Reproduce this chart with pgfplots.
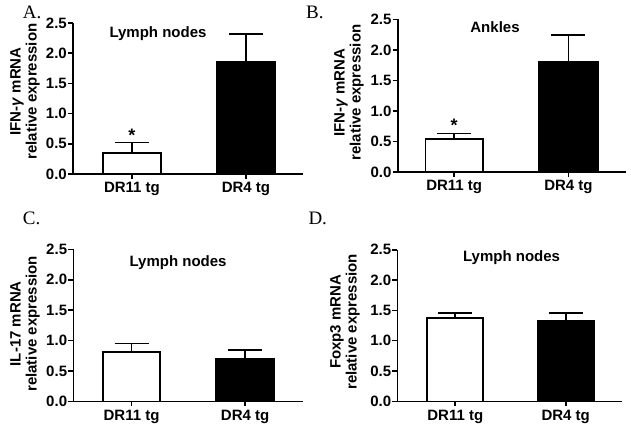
\documentclass[border=0pt]{standalone}
\usepackage{fontspec}
\setmainfont{Liberation Sans}
\newfontfamily\seriffont{Liberation Serif}
\usepackage{pgfplots}
\pgfplotsset{compat=1.18}
\newcommand{\tf}{\bfseries\fontsize{15}{16}\selectfont}
\pgfplotsset{
  panel/.style={
    scale only axis,
    anchor=south west,
    axis x line=bottom, axis y line=left,
    axis line style={-, line width=1.6pt},
    ymin=0, ymax=2.5,
    ytick={0,0.5,1,1.5,2,2.5},
    xtick={1,2}, xticklabels={DR11 tg, DR4 tg},
    tick align=outside,
    major tick length=5pt,
    tick style={line width=1.6pt, black},
    ticklabel style={font=\tf},
    yticklabel style={inner sep=1pt},
    clip=false,
    /pgf/number format/.cd, fixed, fixed zerofill, precision=1, assume math mode=true,
    /pgfplots/.cd,
  },
  wbar/.style={ybar, bar shift=0pt, fill=white, draw=black, line width=1.6pt,
    error bars/.cd, y dir=plus, y explicit, error mark=|,
    error bar style={line width=1.6pt, black},
    error mark options={line width=1.6pt, mark size=17pt, black},
    /pgfplots/.cd},
  kbar/.style={ybar, bar shift=0pt, fill=black, draw=black, line width=1.6pt,
    error bars/.cd, y dir=plus, y explicit, error mark=|,
    error bar style={line width=1.6pt, black},
    error mark options={line width=1.6pt, mark size=17pt, black},
    /pgfplots/.cd},
}
\begin{document}
\begin{tikzpicture}
\path[use as bounding box] (0pt,0pt) rectangle (631pt,432pt);
% panel letters
\node[font=\seriffont\fontsize{19}{19}\selectfont, anchor=base west, inner sep=0pt] at (22.7pt,413pt) {A.};
\node[font=\seriffont\fontsize{19}{19}\selectfont, anchor=base west, inner sep=0pt] at (306pt,413pt) {B.};
\node[font=\seriffont\fontsize{19}{19}\selectfont, anchor=base west, inner sep=0pt] at (22.7pt,208pt) {C.};
\node[font=\seriffont\fontsize{19}{19}\selectfont, anchor=base west, inner sep=0pt] at (308.3pt,208pt) {D.};

% A
\begin{axis}[panel, at={(73pt,258pt)}, width=230pt, height=151pt,
  xmin=0.4825, xmax=2.5,
  ylabel={IFN-\textit{γ} mRNA\\relative expression},
  every axis y label/.style={at={(rel axis cs:-0.209,0.546)}, rotate=90, anchor=center, align=center, font=\tf}]
\addplot[bar width=58pt, wbar] coordinates {(1,0.35) +- (0,0.17)};
\addplot[bar width=58pt, kbar] coordinates {(2,1.86) +- (0,0.46)};
\node[font=\tf] at (axis cs:1.228,2.33) {Lymph nodes};
\node[font=\bfseries\fontsize{18}{18}\selectfont, anchor=base, inner sep=0pt] at (axis cs:1,0.546) {*};
\end{axis}

% B
\begin{axis}[panel, at={(397.7pt,260pt)}, width=228.3pt, height=152.7pt,
  xmin=0.505, xmax=2.504,
  ylabel={IFN-\textit{γ} mRNA\\relative expression},
  every axis y label/.style={at={(rel axis cs:-0.213,0.52)}, rotate=90, anchor=center, align=center, font=\tf}]
\addplot[bar width=57.5pt, wbar] coordinates {(1,0.545) +- (0,0.085)};
\addplot[bar width=58.5pt, kbar] coordinates {(2,1.806) +- (0,0.434)};
\node[font=\tf] at (axis cs:1.357,2.37) {Ankles};
\node[font=\bfseries\fontsize{18}{18}\selectfont, anchor=base, inner sep=0pt] at (axis cs:1,0.67) {*};
\end{axis}

% C
\begin{axis}[panel, at={(73.3pt,30.7pt)}, width=229.7pt, height=152pt,
  xmin=0.487, xmax=2.51,
  ylabel={IL-17 mRNA\\relative expression},
  every axis y label/.style={at={(rel axis cs:-0.21,0.51)}, rotate=90, anchor=center, align=center, font=\tf}]
\addplot[bar width=57.5pt, wbar] coordinates {(1,0.81) +- (0,0.14)};
\addplot[bar width=58pt, kbar] coordinates {(2,0.707) +- (0,0.133)};
\node[font=\tf] at (axis cs:1.41,2.28) {Lymph nodes};
\end{axis}

% D
\begin{axis}[panel, at={(397.3pt,30.7pt)}, width=224.4pt, height=151.6pt,
  xmin=0.475, xmax=2.507,
  ylabel={Foxp3 mRNA\\relative expression},
  every axis y label/.style={at={(rel axis cs:-0.233,0.524)}, rotate=90, anchor=center, align=center, font=\tf}]
\addplot[bar width=56pt, wbar] coordinates {(1,1.369) +- (0,0.087)};
\addplot[bar width=56.7pt, kbar] coordinates {(2,1.324) +- (0,0.136)};
\node[font=\tf] at (axis cs:1.51,2.37) {Lymph nodes};
\end{axis}
\end{tikzpicture}
\end{document}
